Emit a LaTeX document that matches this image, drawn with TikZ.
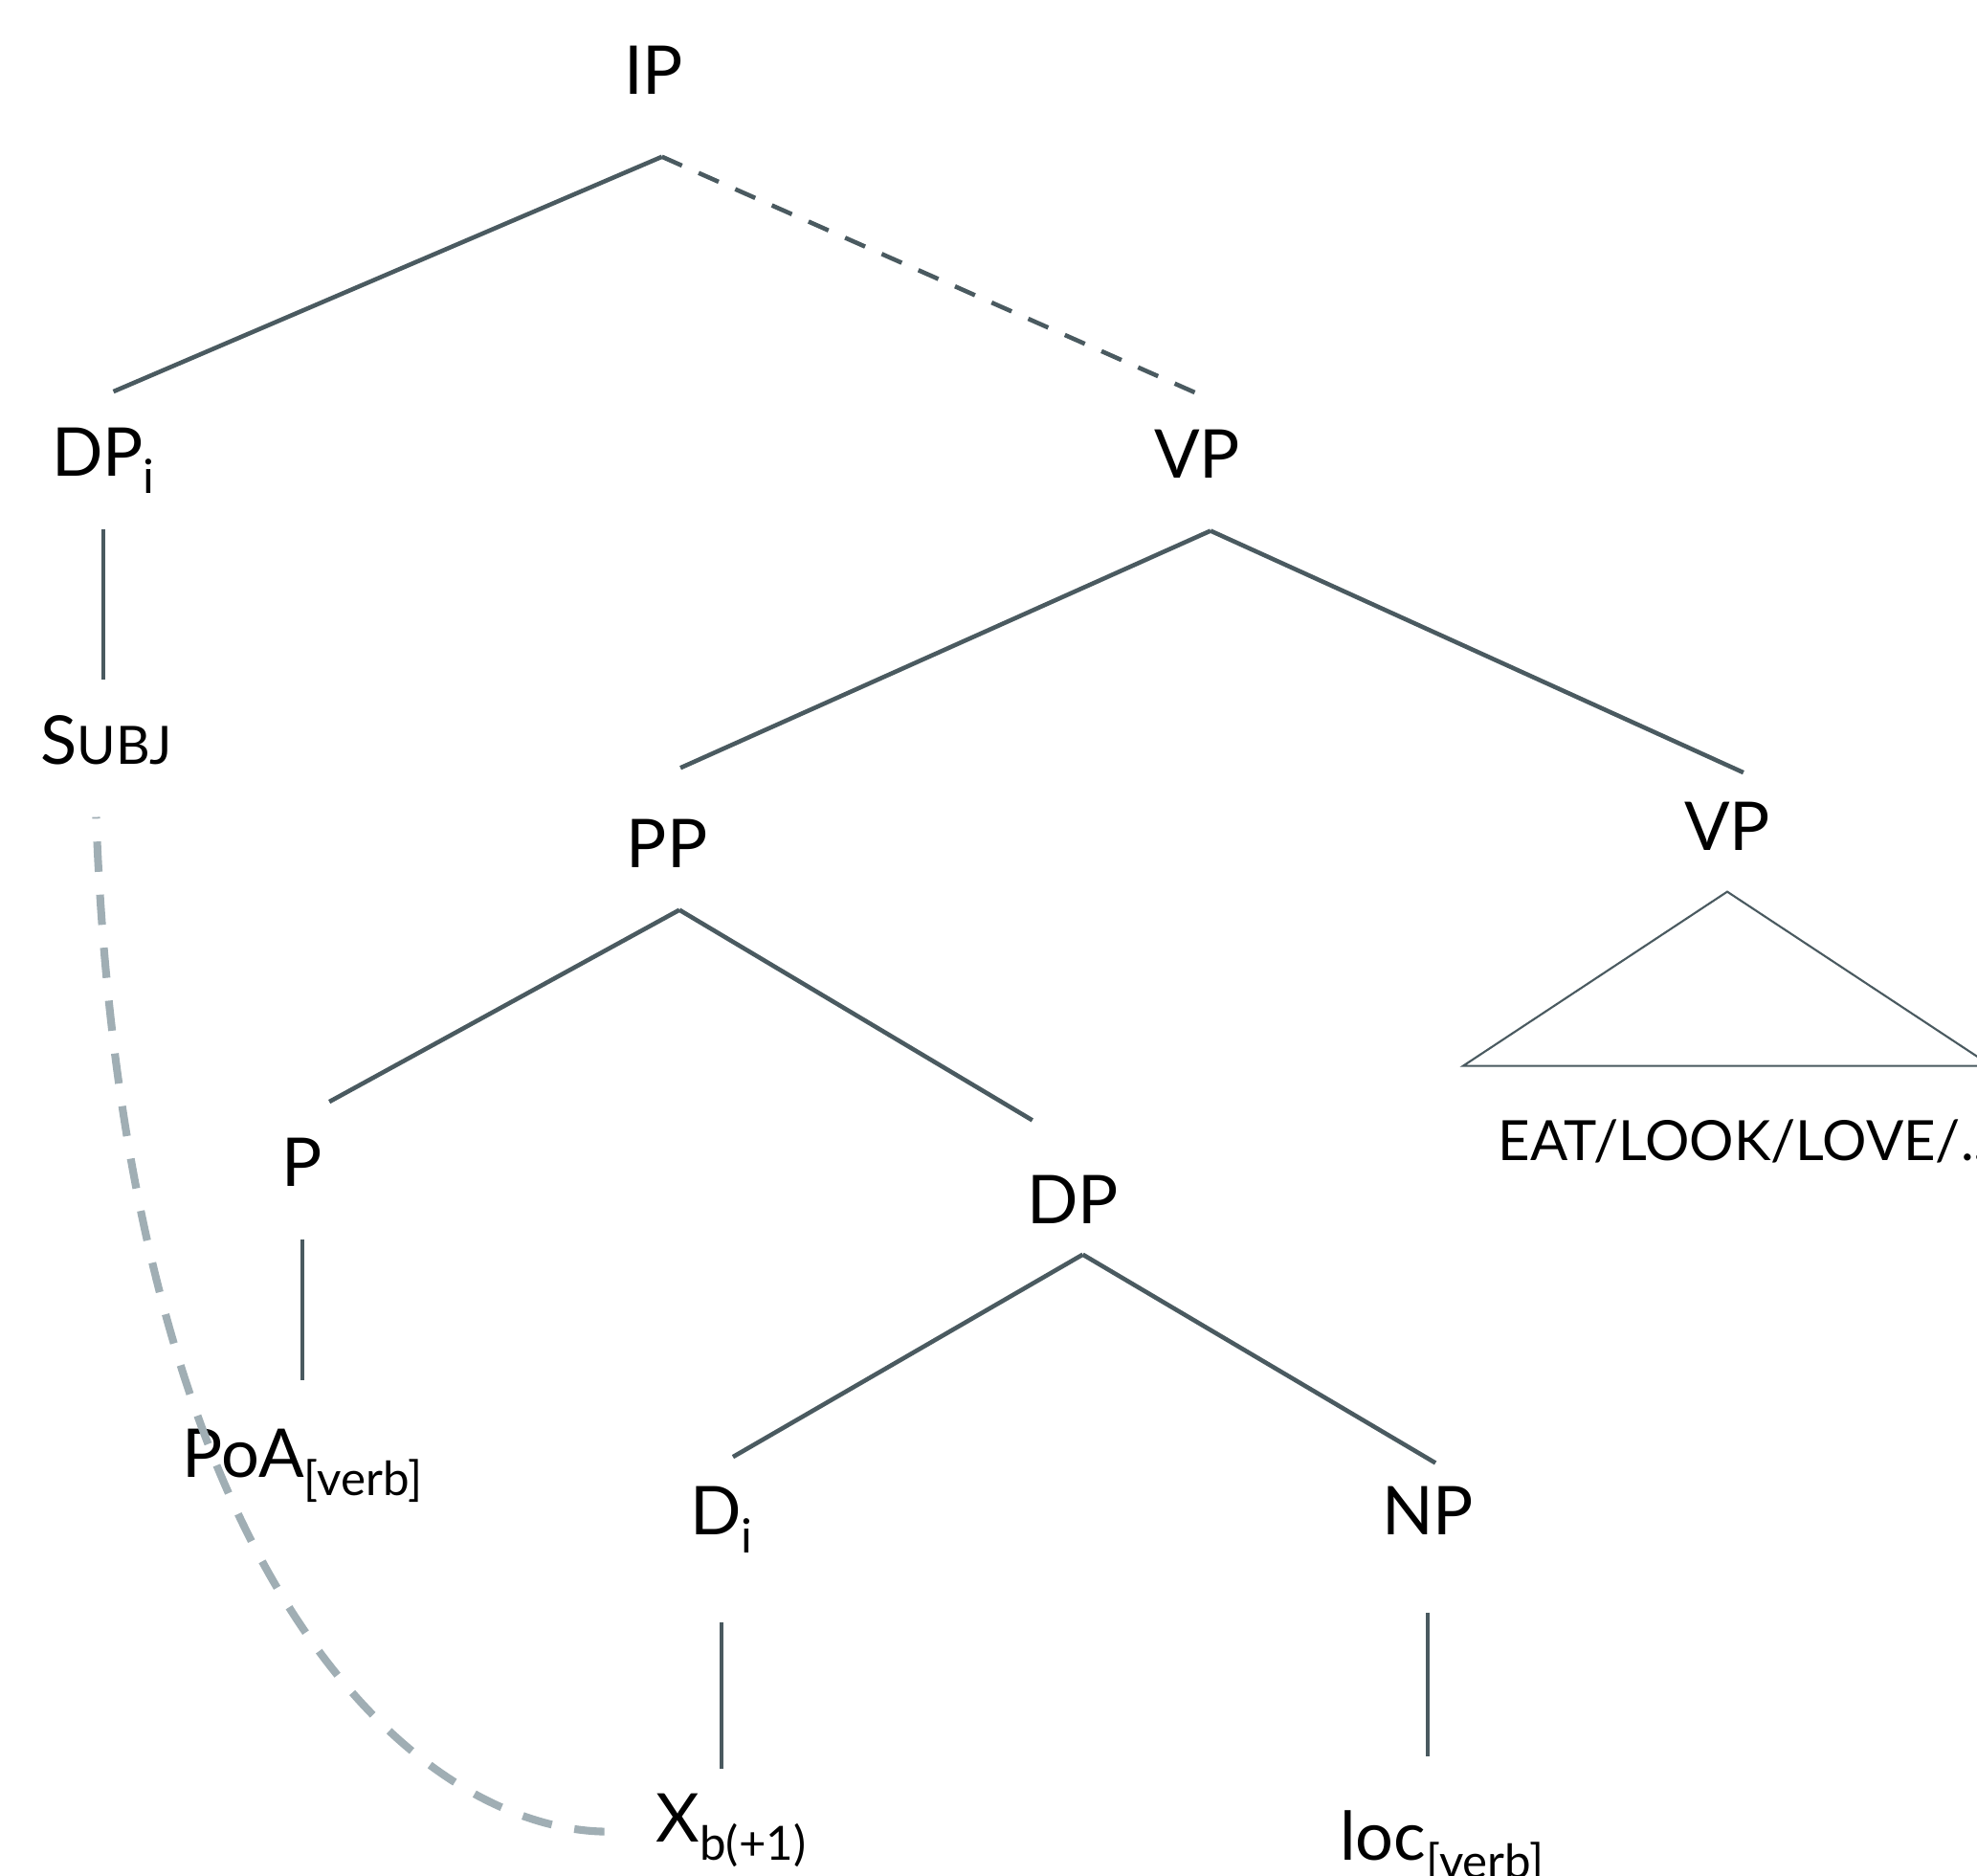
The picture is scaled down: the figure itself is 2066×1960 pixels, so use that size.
\documentclass[tikz,border=0pt]{standalone}
\usepackage{fontspec}
\setmainfont{Lato}
\definecolor{linegray}{RGB}{74,90,96}
\definecolor{linkgray}{RGB}{160,174,180}
\newcommand{\sbs}[1]{\raisebox{-5.4pt}{\fontsize{14}{14}\selectfont #1}}
\tikzset{
	tnode/.style={anchor=base, inner sep=0pt, text height=24.8pt, text depth=15.6pt, font=\fontsize{20}{24}\selectfont},
	branch/.style={draw=linegray, line width=1.3pt},
	unary/.style={draw=linegray, line width=1.1pt}
}
\begin{document}
\begin{tikzpicture}[x=0.01cm,y=-0.01cm]
\useasboundingbox (0,0) rectangle (2066,1960);
\clip (0,0) rectangle (2066,1960);

\node[tnode, text depth=18.5pt] (ip) at (683,98) {IP};
\node[tnode] (dpi) at (108,497) {DP\sbs{i}};
\node[tnode] (vp) at (1251,499) {VP};
\node[tnode] (subj) at (111,798) {S{\fontsize{15.7}{18}\selectfont UBJ}};
\node[tnode, text height=29.3pt, text depth=12.5pt] (pp) at (697,906) {PP};
\node[tnode, text height=22.8pt, text depth=12.2pt] (vpr) at (1805,888) {VP};
\node[tnode] (p) at (316,1239) {P};
\node[tnode, text height=30.4pt, text depth=9.1pt] (dp) at (1121,1278) {DP};
\node[tnode, text height=28.6pt] (poa) at (316,1543) {PoA\sbs{[verb]}};
\node[tnode, text height=22.8pt, text depth=26pt] (di) at (754,1603) {D\sbs{i}};
\node[tnode, text height=21pt, text depth=23pt] (np) at (1492,1603) {NP};
\node[tnode, text height=21.5pt] (xb) at (764,1924) {X\sbs{b(+1)}};
\node[tnode, text height=30.5pt] (loc) at (1507,1943) {loc\sbs{[verb]}};
\node[tnode, anchor=base west, font=\fontsize{16.5}{20}\selectfont] (eat) at (1565,1212) {EAT/LOOK/LOVE/...};

\draw[branch] ([xshift=2.5pt]ip.south) -- ([xshift=3pt]dpi.north);
\draw[branch, dash pattern=on 6.5pt off 5.4pt] ([xshift=2.5pt]ip.south) -- (vp.north);
\draw[branch] ([xshift=4pt]vp.south) -- ([xshift=4pt]pp.north);
\draw[branch] ([xshift=4pt]vp.south) -- ([xshift=4.8pt]vpr.north);
\draw[branch] ([xshift=3.7pt]pp.south) -- ([xshift=8pt]p.north);
\draw[branch] ([xshift=3.7pt]pp.south) -- ([xshift=-12pt]dp.north);
\draw[branch] ([xshift=3pt]dp.south) -- ([xshift=3.4pt]di.north);
\draw[branch] ([xshift=3pt]dp.south) -- ([xshift=2.3pt]np.north);

\draw[unary] (dpi.south) -- (dpi.south |- subj.north);
\draw[unary] (p.south) -- (p.south |- poa.north);
\draw[unary] (di.south) -- (di.south |- xb.north);
\draw[unary] (np.south) -- (np.south |- loc.north);

\draw[linegray, line width=0.6pt] (vpr.south) -- ++(-276,182) -- ++(552,0) -- cycle;

\draw[linkgray, line width=2.3pt, dash pattern=on 9pt off 6.8pt, dash phase=8.5pt]
	([xshift=-3pt]subj.south) .. controls +(30,809) and +(-193,0) .. ([xshift=-14pt]xb.west);
\end{tikzpicture}
\end{document}
